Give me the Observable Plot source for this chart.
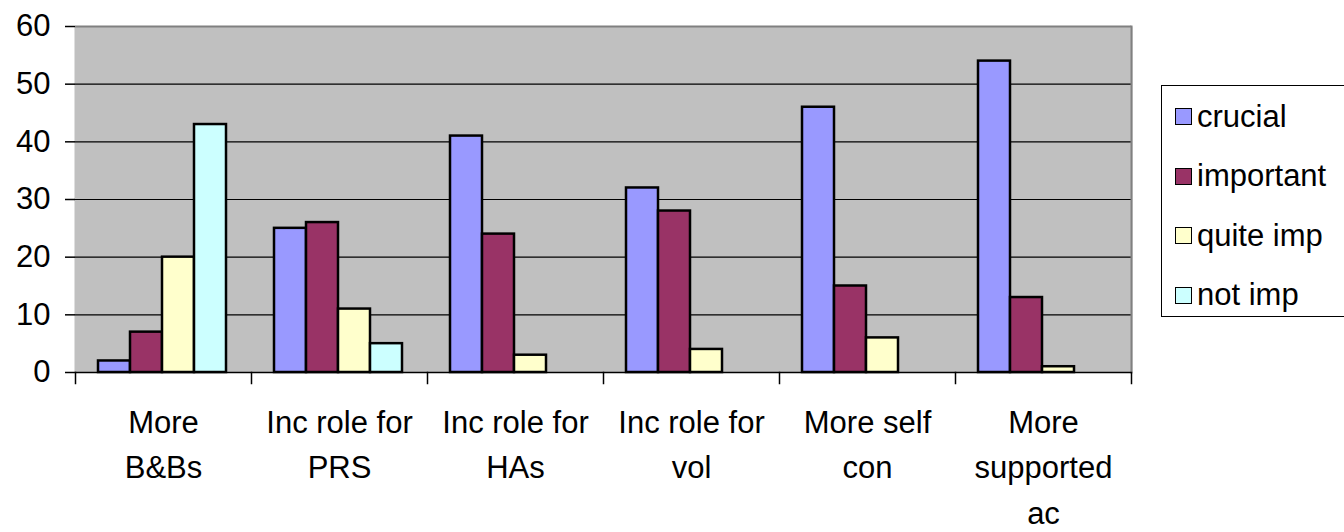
<!DOCTYPE html>
<html>
<head>
<meta charset="utf-8">
<script src="https://cdn.jsdelivr.net/npm/d3@7"></script>
<script src="https://cdn.jsdelivr.net/npm/@observablehq/plot@0.6"></script>
<style>
  html, body { margin: 0; padding: 0; background: #fff; overflow: hidden; }
  #wrap { position: relative; width: 1344px; height: 532px; overflow: hidden; font-family: "Liberation Sans", Arial, sans-serif; color: #000; }
  #legend { position: absolute; left: 1161px; top: 85px; width: 200px; height: 232px; border: 1.5px solid #000; box-sizing: border-box; background: #fff; }
  .item { position: absolute; left: 13px; height: 34px; display: flex; align-items: center; font-size: 31px; line-height: 34px; white-space: nowrap; }
  .sw { width: 15px; height: 15px; border: 1.5px solid #000; margin-right: 5px; flex: none; }
</style>
</head>
<body>
<div id="wrap"></div>
<script>
const categories = ["More\nB&Bs", "Inc role for\nPRS", "Inc role for\nHAs", "Inc role for\nvol", "More self\ncon", "More\nsupported\nac"];
const series = ["crucial", "important", "quite imp", "not imp"];
const crucial   = [2, 25, 41, 32, 46, 54];
const important = [7, 26, 24, 28, 15, 13];
const quiteImp  = [20, 11, 3, 4, 6, 1];
const notImp    = [43, 5, 0, 0, 0, 0];
const colors = ["#9999FF", "#993366", "#FFFFCC", "#CCFFFF"];
const yTicks = [0, 10, 20, 30, 40, 50, 60];

const valuesBySeries = [crucial, important, quiteImp, notImp];
const rows = [];
categories.forEach((c, i) => {
  series.forEach((s, j) => {
    const v = valuesBySeries[j][i];
    if (v > 0) rows.push({category: c, series: s, value: v});
  });
});

const lastCat = categories[categories.length - 1];

const chart = Plot.plot({
  width: 1344,
  height: 532,
  marginLeft: 72,
  marginRight: 211,
  marginTop: 26,
  marginBottom: 160,
  style: {fontFamily: "'Liberation Sans', Arial, sans-serif", fontSize: "31px", color: "#000", background: "transparent", overflow: "visible"},
  fx: {domain: categories, padding: 0, label: null},
  x: {domain: series, paddingInner: 0, paddingOuter: 0.74, align: 0.47, axis: null},
  y: {domain: [0, 60], label: null},
  color: {domain: series, range: colors},
  marks: [
    Plot.frame({fill: "#C0C0C0", insetLeft: -1, insetRight: -1}),
    Plot.gridY(yTicks.slice(1, -1), {stroke: "#000", strokeOpacity: 1, strokeWidth: 1.2}),
    Plot.ruleY([60], {stroke: "#808080", strokeWidth: 2}),
    Plot.frame({anchor: "right", fx: () => lastCat, stroke: "#808080", strokeWidth: 2}),
    Plot.barY(rows, {fx: "category", x: "series", y: "value", fill: "series", stroke: "#000", strokeWidth: 2.5}),
    Plot.ruleY([0], {stroke: "#000", strokeWidth: 1.5}),
    Plot.frame({anchor: "left", insetTop: 346, insetBottom: -11, stroke: "#000", strokeWidth: 1.5}),
    Plot.frame({anchor: "right", fx: () => lastCat, insetTop: 346, insetBottom: -11, stroke: "#000", strokeWidth: 1.5}),
    Plot.axisY(yTicks, {tickSize: 10, tickPadding: 15, stroke: "#000", strokeWidth: 1.5, line: true, fill: "#000", fontSize: 31, label: null}),
    Plot.axisFx({anchor: "bottom", tickSize: 0, tickPadding: 28, lineHeight: 1.47, fontSize: 31, fill: "#000", label: null})
  ]
});

const wrap = document.getElementById("wrap");
wrap.appendChild(chart);

const legend = document.createElement("div");
legend.id = "legend";
const centers = [30.5, 90, 149.5, 209];
series.forEach((s, i) => {
  const item = document.createElement("div");
  item.className = "item";
  item.style.top = (centers[i] - 17) + "px";
  const sw = document.createElement("span");
  sw.className = "sw";
  sw.style.background = colors[i];
  const t = document.createElement("span");
  t.textContent = s;
  item.appendChild(sw);
  item.appendChild(t);
  legend.appendChild(item);
});
wrap.appendChild(legend);
</script>
</body>
</html>
